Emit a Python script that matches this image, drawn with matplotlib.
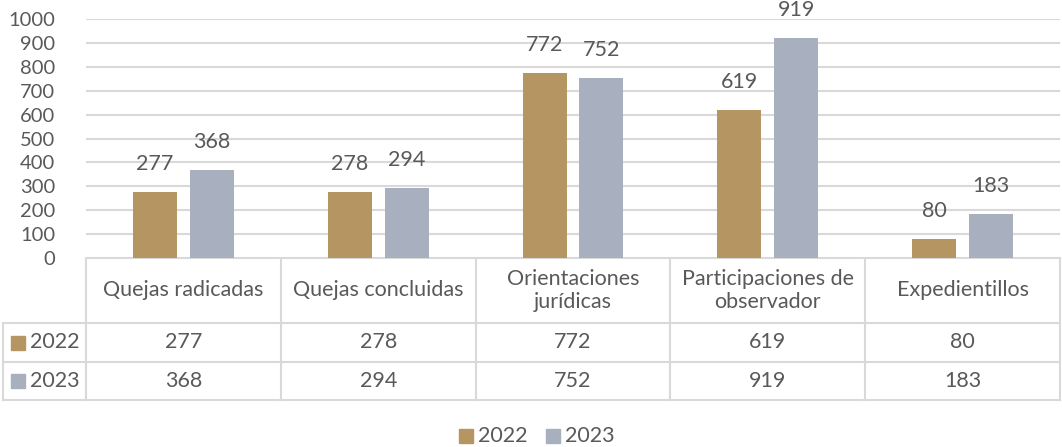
import matplotlib.pyplot as plt
import numpy as np

categories = ["Quejas radicadas", "Quejas concluidas", "Orientaciones\njurídicas",
              "Participaciones de\nobservador", "Expedientillos"]
series_names = ["2022", "2023"]
vals_2022 = [277, 278, 772, 619, 80]
vals_2023 = [368, 294, 752, 919, 183]
yticks = list(range(0, 1001, 100))

colors = ["#B59662", "#A8B0C0"]
txt = "#595959"
grid = "#D9D9D9"
fs = 15.5
plt.rcParams['font.family'] = ['Lato', 'DejaVu Sans']

W, H = 1062, 447
fig = plt.figure(figsize=(W / 100, H / 100), dpi=100)

# plot area in pixels
x0, x1, ytop, ybot = 86, 1060, 19, 258
ax = fig.add_axes([x0 / W, 1 - ybot / H, (x1 - x0) / W, (ybot - ytop) / H])
n = len(categories)
x = np.arange(n)
bw = 0.226
off = 0.146
for i, (vals, name) in enumerate(zip([vals_2022, vals_2023], series_names)):
    pos = x + (-off if i == 0 else off)
    ax.bar(pos, vals, bw, color=colors[i], zorder=3, label=name)
    for p, v in zip(pos, vals):
        ax.annotate(str(v), (p, v), xytext=(0, 13), textcoords="offset points",
                    ha="center", va="bottom", fontsize=fs, color=txt)
ax.set_xlim(-0.5, n - 0.5)
ax.set_ylim(0, 1000)
ax.set_yticks(yticks)
ax.set_xticks([])
ax.yaxis.grid(True, color=grid, lw=1.5, zorder=0)
for s in ax.spines.values():
    s.set_visible(False)
ax.tick_params(axis="y", length=0, labelsize=14.5, labelcolor=txt, pad=22)

# data table drawn in a pixel-space overlay
ov = fig.add_axes([0, 0, 1, 1], zorder=-1)
ov.set_xlim(0, W)
ov.set_ylim(H, 0)
ov.axis("off")
r0, r1, r2, r3 = 258, 323, 362, 400
lx = 3
edges = [x0 + (x1 - x0) * k / n for k in range(n + 1)]
lw = 1.5
ov.plot([x0, x1], [r0, r0], color=grid, lw=lw)
for yy in (r1, r2, r3):
    ov.plot([lx, x1], [yy, yy], color=grid, lw=lw)
for ex in edges:
    ov.plot([ex, ex], [r0, r3], color=grid, lw=lw)
ov.plot([lx, lx], [r1, r3], color=grid, lw=lw)

for k, cat in enumerate(categories):
    cx = (edges[k] + edges[k + 1]) / 2
    ov.text(cx, (r0 + r1) / 2, cat, ha="center", va="center", fontsize=fs,
            color=txt, linespacing=1.2)
    ov.text(cx, (r1 + r2) / 2, str(vals_2022[k]), ha="center", va="center",
            fontsize=fs, color=txt)
    ov.text(cx, (r2 + r3) / 2, str(vals_2023[k]), ha="center", va="center",
            fontsize=fs, color=txt)
for (ya, yb), name, c in zip([(r1, r2), (r2, r3)], series_names, colors):
    ym = (ya + yb) / 2
    ov.add_patch(plt.Rectangle((11, ym - 7), 14, 14, color=c))
    ov.text(30, ym, name, ha="left", va="center", fontsize=fs, color=txt)

# legend
ly = 436
for (sx, name, c) in [(459, series_names[0], colors[0]), (546, series_names[1], colors[1])]:
    ov.add_patch(plt.Rectangle((sx, ly - 7), 14, 14, color=c))
    ov.text(sx + 19, ly, name, ha="left", va="center", fontsize=fs, color=txt)

fig.savefig("out.png", dpi=100)
